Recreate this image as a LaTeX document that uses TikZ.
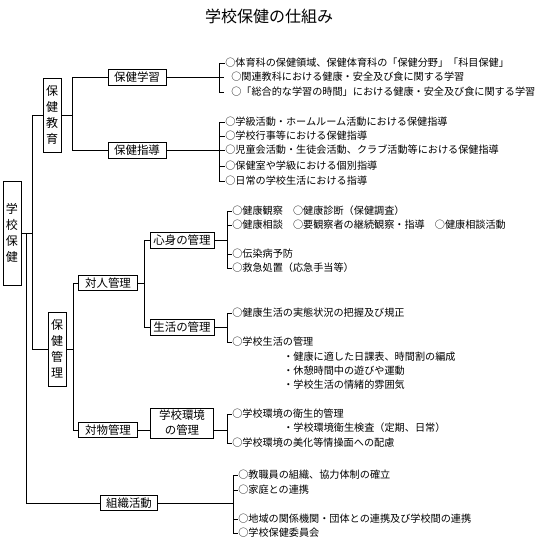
\documentclass[tikz,border=0pt]{standalone}
\usepackage{fontspec}
\setmainfont{Noto Sans CJK JP}
\usetikzlibrary{calc}
\begin{document}
\begin{tikzpicture}[x=0.75pt,y=-0.75pt,
  ln/.style={line width=0.75pt},
  lbl/.style={draw,line width=0.75pt,inner sep=0pt,font=\fontsize{8.6pt}{10pt}\selectfont},
  hbox/.style={lbl,minimum width=43.5pt,minimum height=12pt},
  vbox/.style={lbl,minimum width=13.5pt,align=center,font=\fontsize{9pt}{12pt}\selectfont},
  item/.style={anchor=west,inner sep=0pt,font=\fontsize{7.6pt}{9pt}\selectfont},
  ttl/.style={font=\fontsize{12pt}{14pt}\selectfont,inner sep=0pt}]
\useasboundingbox (0,0) rectangle (543,543);
\node[ttl] (title) at (269,16) {学校保健の仕組み};
% main boxes
\node[vbox,minimum height=78pt] (gk) at (12,233) {学\\校\\保\\健};
\node[vbox,minimum height=55.5pt] (hk) at (52,115) {保\\健\\教\\育};
\node[vbox,minimum height=55.5pt] (hm) at (57,349) {保\\健\\管\\理};
\node[hbox] (sg) at (137,77) {保健学習};
\node[hbox] (sd) at (137,150) {保健指導};
\node[hbox,minimum width=44.25pt,minimum height=11.25pt] (tj) at (108,283) {対人管理};
\node[hbox,minimum width=44.25pt,minimum height=11.25pt] (tb) at (108,430) {対物管理};
\node[hbox,minimum width=48pt] (ssk) at (182,240) {心身の管理};
\node[hbox,minimum width=48pt] (sk) at (182,327) {生活の管理};
\node[lbl,minimum width=47.25pt,minimum height=22.5pt,align=center,font=\fontsize{8.6pt}{11.25pt}\selectfont] (ek) at (182,423) {学校環境\\の管理};
\node[hbox,minimum width=42.75pt,minimum height=11.25pt] (so) at (129,503) {組織活動};
% trunk lines
\coordinate (A1) at (32,115); \coordinate (A2) at (32,349);
\draw[ln] (hk.west) -- (A1) -- (A2) -- (hm.west);
\draw[ln] (gk.east) -- (gk.east -| A1);
\coordinate (B1) at (26,233); \coordinate (B2) at (26,503);
\draw[ln] (B1) -- (B2) -- (so.west);
\coordinate (C1) at (72,77); \coordinate (C2) at (72,150);
\draw[ln] (sg.west) -- (C1) -- (C2) -- (sd.west);
\draw[ln] (hk.east) -- (hk.east -| C1);
\coordinate (D1) at (73,283); \coordinate (D2) at (73,430);
\draw[ln] (tj.west) -- (D1) -- (D2) -- (tb.west);
\draw[ln] (hm.east) -- (hm.east -| D1);
\coordinate (E1) at (144,240); \coordinate (E2) at (144,327);
\draw[ln] (ssk.west) -- (E1) -- (E2) -- (sk.west);
\draw[ln] (tj.east) -- (tj.east -| E1);
\draw[ln] (tb.east) -- (tb.east -| ek.west);
% 保健学習 items
\node[item] (a1) at (225,63) {○体育科の保健領域、保健体育科の「保健分野」「科目保健」};
\node[item] (a2) at (231,77) {○関連教科における健康・安全及び食に関する学習};
\node[item] (a3) at (231,92) {○「総合的な学習の時間」における健康・安全及び食に関する学習};
\coordinate (ab1) at (219,63); \coordinate (ab2) at (219,92);
\draw[ln] (ab1) -- (ab2);
\draw[ln] (ab1) -- (a1.west);
\draw[ln] (sg.east) -- ($(sg.east -| ab1)+(5,0)$);
\draw[ln] (ab2) -- ++(5,0);
% 保健指導 items
\node[item] (b1) at (225,122) {○学級活動・ホームルーム活動における保健指導};
\node[item] (b2) at (225,136) {○学校行事等における保健指導};
\node[item] (b3) at (225,150) {○児童会活動・生徒会活動、クラブ活動等における保健指導};
\node[item] (b4) at (225,166) {○保健室や学級における個別指導};
\node[item] (b5) at (225,181) {○日常の学校生活における指導};
\coordinate (bb1) at (219,122); \coordinate (bb2) at (219,181);
\draw[ln] (bb1) -- (bb2);
\draw[ln] (sd.east) -- (b3.west);
\foreach \n in {b1,b2,b4,b5} \draw[ln] (\n.west -| bb1) -- (\n.west);
% 心身の管理 items
\node[item] (c1) at (232,211) {○健康観察　○健康診断（保健調査）};
\node[item] (c2) at (232,225) {○健康相談　○要観察者の継続観察・指導　○健康相談活動};
\node[item] (c3) at (232,254) {○伝染病予防};
\node[item] (c4) at (232,268) {○救急処置（応急手当等）};
\coordinate (cb1) at (227,211); \coordinate (cb2) at (227,268);
\draw[ln] (cb1) -- (cb2);
\draw[ln] (ssk.east) -- (ssk.east -| cb1);
\foreach \n in {c1,c2,c3,c4} \draw[ln] (\n.west -| cb1) -- (\n.west);
% 生活の管理 items
\node[item] (d1) at (232,313) {○健康生活の実態状況の把握及び規正};
\node[item] (d2) at (232,342) {○学校生活の管理};
\node[item] (d3) at (283,357) {・健康に適した日課表、時間割の編成};
\node[item] (d4) at (283,371) {・休憩時間中の遊びや運動};
\node[item] (d5) at (283,385) {・学校生活の情緒的雰囲気};
\coordinate (db1) at (227,313); \coordinate (db2) at (227,342);
\draw[ln] (db1) -- (db2);
\draw[ln] (sk.east) -- (sk.east -| db1);
\foreach \n in {d1,d2} \draw[ln] (\n.west -| db1) -- (\n.west);
% 学校環境の管理 items
\node[item] (e1) at (232,414) {○学校環境の衛生的管理};
\node[item] (e2) at (283,428) {・学校環境衛生検査（定期、日常）};
\node[item] (e3) at (232,443) {○学校環境の美化等情操面への配慮};
\coordinate (eb1) at (227,414); \coordinate (eb2) at (227,443);
\draw[ln] (eb1) -- (eb2);
\draw[ln] (tb.east -| ek.east) -- (tb.east -| eb1);
\foreach \n in {e1,e3} \draw[ln] (\n.west -| eb1) -- (\n.west);
% 組織活動 items
\node[item] (f1) at (238,475) {○教職員の組織、協力体制の確立};
\node[item] (f2) at (238,490) {○家庭との連携};
\node[item] (f3) at (238,519) {○地域の関係機関・団体との連携及び学校間の連携};
\node[item] (f4) at (238,533) {○学校保健委員会};
\coordinate (fb1) at (233,475); \coordinate (fb2) at (233,533);
\draw[ln] (fb1) -- (fb2);
\draw[ln] (so.east) -- (so.east -| fb1);
\foreach \n in {f1,f2,f3,f4} \draw[ln] (\n.west -| fb1) -- (\n.west);
\end{tikzpicture}
\end{document}
